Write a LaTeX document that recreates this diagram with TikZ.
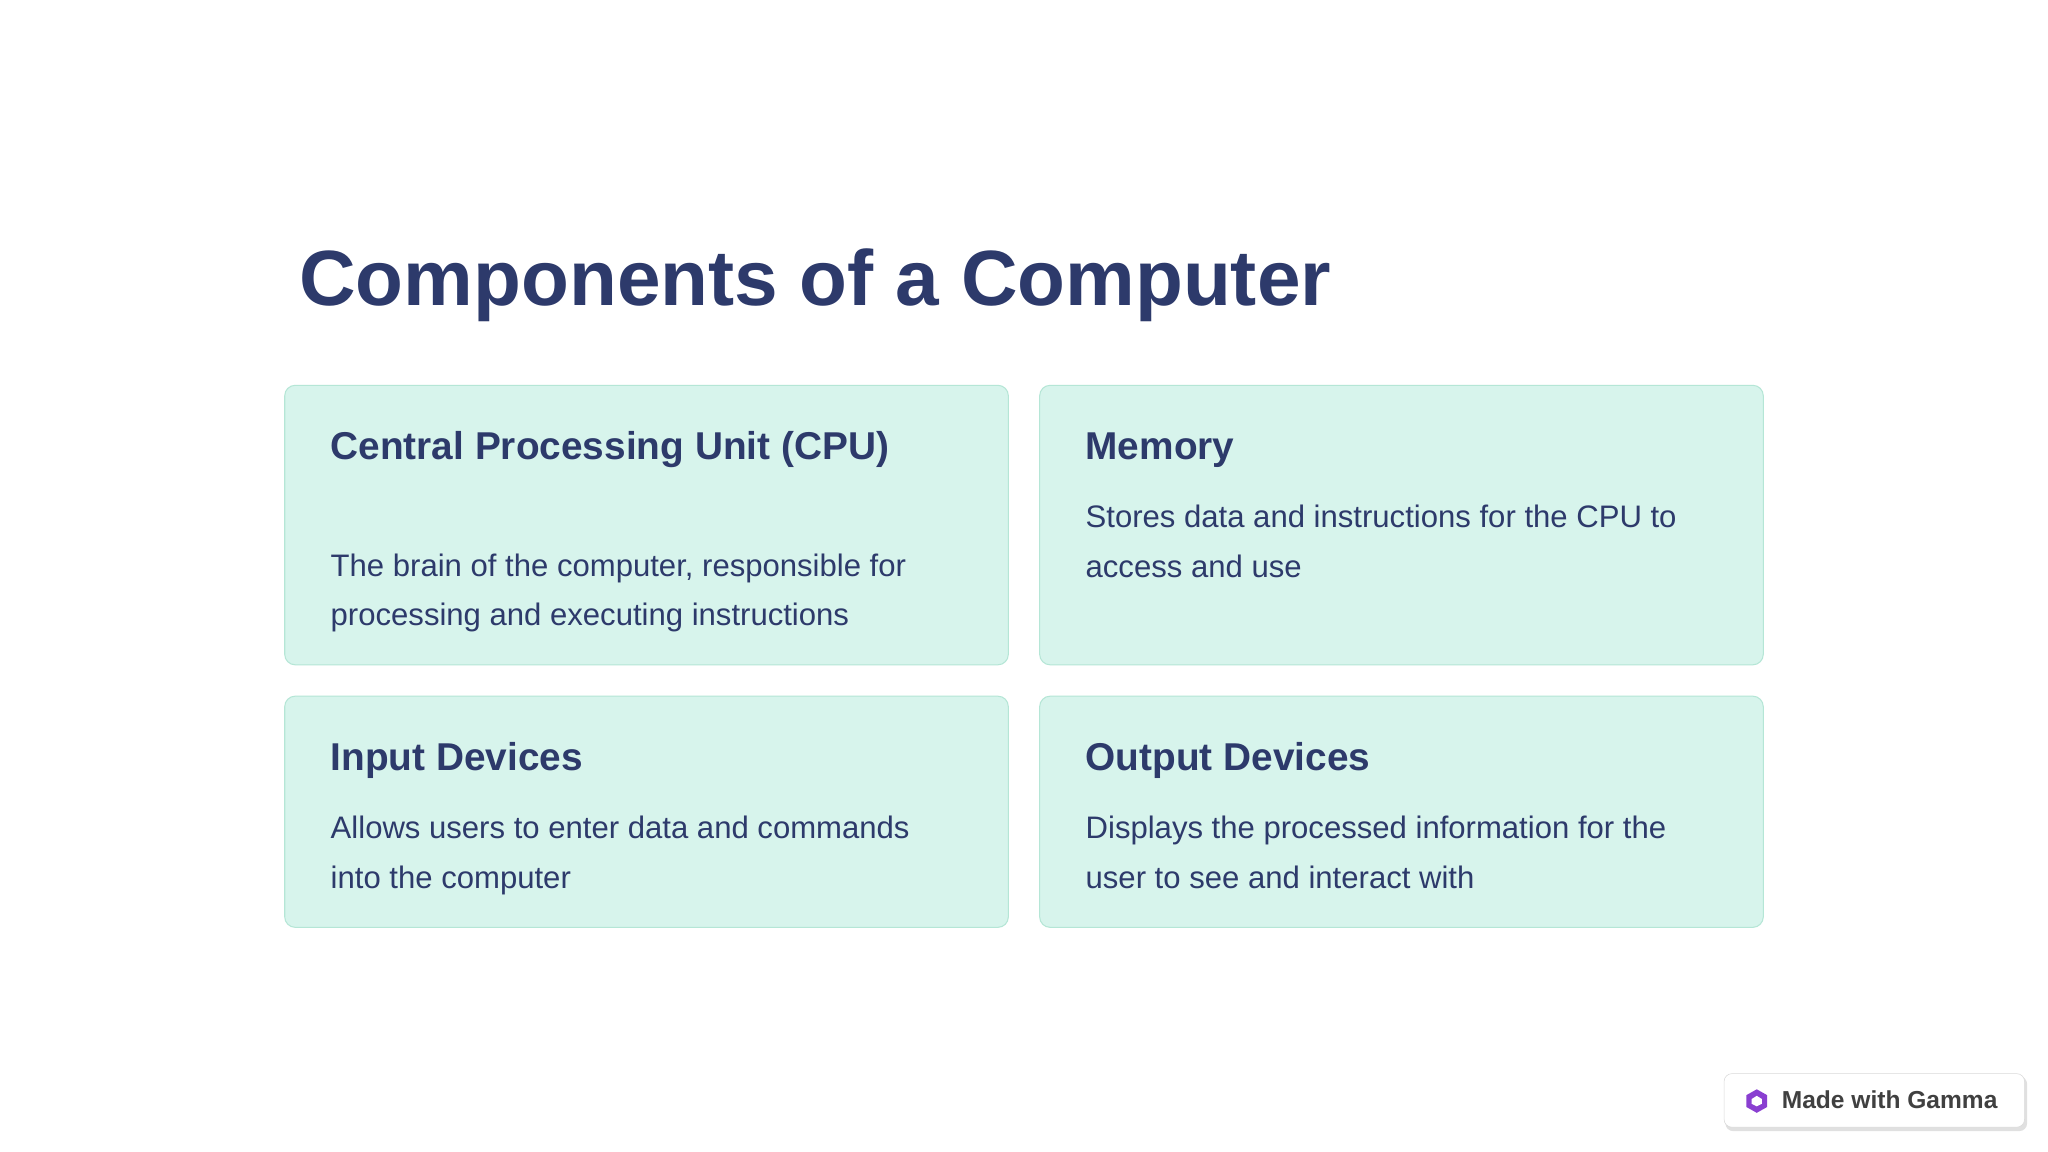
\documentclass[tikz,border=0pt]{standalone}
\usepackage{fontspec}
\setmainfont{Liberation Sans}
\definecolor{ink}{HTML}{2D3A6B}
\definecolor{cardfill}{HTML}{D7F4EC}
\definecolor{cardline}{HTML}{B5E6D6}
\definecolor{gam}{HTML}{8A3FD1}
\begin{document}
\begin{tikzpicture}[x=1pt,y=-1pt,
  card/.style={draw=cardline,fill=cardfill,rounded corners=8pt,line width=0.8pt},
  head/.style={anchor=base west,inner sep=0,text=ink,font=\fontsize{29.7}{34}\selectfont\bfseries},
  body/.style={anchor=base west,inner sep=0,text=ink,font=\fontsize{23.8}{27}\selectfont},
  title/.style={anchor=base west,inner sep=0,text=ink,font=\fontsize{60}{70}\selectfont\bfseries}]
\useasboundingbox (0,0) rectangle (1568,882);
\fill[white] (0,0) rectangle (1568,882);
\node[title] (t) at (229,234) {Components of a Computer};
\draw[card] (218,295) rectangle (772,509);
\draw[card] (796,295) rectangle (1350,509);
\draw[card] (218,533) rectangle (772,710);
\draw[card] (796,533) rectangle (1350,710);
\node[head] (h1) at (253,352) {Central Processing Unit (CPU)};
\node[body] (b1a) at (253,441) {The brain of the computer, responsible for};
\node[body] (b1b) at (253,479) {processing and executing instructions};
\node[head] (h2) at (831,352) {Memory};
\node[body] (b2a) at (831,404) {Stores data and instructions for the CPU to};
\node[body] (b2b) at (831,442) {access and use};
\node[head] (h3) at (253,590) {Input Devices};
\node[body] (b3a) at (253,642) {Allows users to enter data and commands};
\node[body] (b3b) at (253,680) {into the computer};
\node[head] (h4) at (831,590) {Output Devices};
\node[body] (b4a) at (831,642) {Displays the processed information for the};
\node[body] (b4b) at (831,680) {user to see and interact with};
\fill[black!12,rounded corners=6pt] (1321,824) rectangle (1552,866);
\draw[black!15,fill=white,rounded corners=6pt] (1320,822) rectangle (1550,863);
\fill[gam] (1345,834) -- (1353,838.5) -- (1353,847.5) -- (1345,852) -- (1337,847.5) -- (1337,838.5) -- cycle;
\fill[white] (1345,839) -- (1349,841.5) -- (1349,845) -- (1345,847) -- (1341,845) -- (1341,841.5) -- cycle;
\node[anchor=base west,inner sep=0,text=black!75,font=\fontsize{18.8}{22}\selectfont\bfseries] (g) at (1364,849) {Made with Gamma};
\end{tikzpicture}
\end{document}
